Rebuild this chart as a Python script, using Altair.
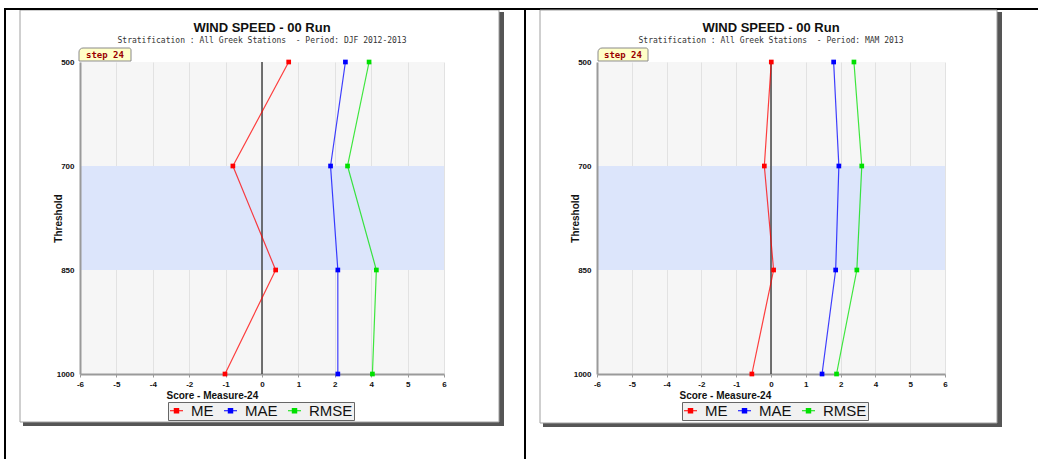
import altair as alt
import pandas as pd

# ---------------- data ----------------
levels = ["500", "700", "850", "1000"]
series = ["ME", "MAE", "RMSE"]
series_colors = ["#ff0000", "#0000ff", "#00e000"]

djf_me = [0.88, -0.96, 0.45, -1.22]
djf_mae = [2.75, 2.26, 2.50, 2.50]
djf_rmse = [3.53, 2.82, 3.77, 3.64]

mam_me = [0.01, -0.23, 0.09, -0.66]
mam_mae = [2.16, 2.34, 2.23, 1.76]
mam_rmse = [2.86, 3.13, 2.96, 2.26]

x_ticks = [-6, -4.8, -3.6, -2.4, -1.2, 0, 1.2, 2.4, 3.6, 4.8, 6]
x_tick_labels = ["-6", "-5", "-4", "-2", "-1", "0", "1", "2", "4", "5", "6"]

band_levels = ["700", "850"]
title_text = "WIND SPEED - 00 Run"
subtitles = [
    "Stratification : All Greek Stations \u00a0- Period: DJF 2012-2013",
    "Stratification : All Greek Stations \u00a0- Period: MAM 2013",
]
step_label = "step 24"
x_title = "Score - Measure-24"
y_title = "Threshold"

PLOT_TOP = 62
PLOT_H = 312

label_expr = "[" + ",".join("'%s'" % s for s in x_tick_labels) + "][indexof([" + \
    ",".join(str(v) for v in x_ticks) + "], datum.value)]"

one = pd.DataFrame({"k": [0]})


def rect(ax1, ay1, ax2, ay2, ox, color, stroke=None):
    kw = dict(fill=color) if stroke is None else dict(filled=False, stroke=stroke, strokeWidth=1)
    return alt.Chart(one).mark_rect(**kw).encode(
        x=alt.value(ax1 - ox), x2=alt.value(ax2 - ox),
        y=alt.value(ay1 - PLOT_TOP), y2=alt.value(ay2 - PLOT_TOP),
    )


def text(s, ax, ay, ox, **kw):
    return alt.Chart(one).mark_text(text=s, **kw).encode(
        x=alt.value(ax - ox), y=alt.value(ay - PLOT_TOP)
    )


def panel(ox, width, me, mae, rmse, subtitle, frame, legend_xy, title_cx, step_x, xtitle_x, extra):
    rows = []
    for name, vals in zip(series, [me, mae, rmse]):
        for i, (lv, v) in enumerate(zip(levels, vals)):
            rows.append({"level": lv, "idx": i, "series": name, "value": v})
    df = pd.DataFrame(rows)

    yscale = alt.Scale(domain=levels, type="point", padding=0)
    xscale = alt.Scale(domain=[-6, 6], nice=False, zero=False)
    cscale = alt.Scale(domain=series, range=series_colors)

    xaxis = alt.Axis(
        values=x_ticks, labelExpr=label_expr, grid=True, gridColor="#e2e2e2",
        domainColor="#9a9a9a", domainWidth=2, tickColor="#9a9a9a", tickSize=3,
        labelFont="Liberation Sans", labelFontSize=8, labelFontWeight="bold",
        labelColor="#111", labelPadding=3, labelFlush=False, labelOverlap=False,
        title=x_title, titleFont="Liberation Sans", titleFontSize=10,
        titleFontWeight="bold", titleColor="#111", titleX=xtitle_x, titleY=24,
        titleAlign="left", titleBaseline="alphabetic",
    )
    yaxis = alt.Axis(
        ticks=False, grid=False, domainColor="#9a9a9a", domainWidth=2,
        labelFont="Liberation Sans", labelFontSize=8, labelFontWeight="bold",
        labelColor="#111", labelPadding=6,
        title=y_title, titleFont="Liberation Sans", titleFontSize=10,
        titleFontWeight="bold", titleColor="#111", titleX=-17, titleY=PLOT_H / 2,
    )
    leg = alt.Legend(
        orient="none", legendX=legend_xy[0], legendY=legend_xy[1],
        direction="horizontal", title=None,
        fillColor="#f1f1f1", strokeColor="#666666", padding=1,
        symbolType="M-1,-0.08H1V0.08H-1ZM-0.42,-0.42H0.42V0.42H-0.42Z", symbolSize=169,
        symbolStrokeWidth=0, symbolOpacity=1, labelFont="Liberation Sans", labelFontSize=15,
        labelColor="#111", labelOffset=7, columnPadding=9,
    )

    fx1, fy1, fx2, fy2 = frame
    layers = [
        rect(fx2, fy1 + 2, fx2 + 5, fy2 + 4, ox, "#555555"),
        rect(fx1 + 3, fy2, fx2 + 5, fy2 + 4, ox, "#555555"),
        rect(fx1, fy1, fx2, fy2, ox, None, stroke="#a0a0a0"),
    ] + extra

    band = alt.Chart(pd.DataFrame({"lo": [band_levels[0]], "hi": [band_levels[1]]})).mark_rect(
        color="#dce5fb").encode(
        x=alt.value(0), x2=alt.value("width"),
        y=alt.Y("lo:O", scale=yscale, axis=yaxis), y2="hi:O",
    )
    zero = alt.Chart(pd.DataFrame({"z": [0]})).mark_rule(color="#444444", strokeWidth=1.5).encode(
        x=alt.X("z:Q", scale=xscale, axis=xaxis)
    )
    base = alt.Chart(df).encode(
        x=alt.X("value:Q", scale=xscale, axis=xaxis),
        y=alt.Y("level:O", scale=yscale, axis=yaxis),
        order="idx:Q",
    )
    pts = base.mark_point(shape="square", size=22, opacity=1, filled=True).encode(
        color=alt.Color("series:N", scale=cscale, legend=leg),
    )
    lines = base.mark_line(strokeWidth=1.2, opacity=0.75).encode(
        color=alt.Color("series:N", scale=cscale, legend=leg)
    )
    sx1, sx2 = step_x
    layers += [
        band, zero, pts, lines,
        alt.Chart(one).mark_rect(fill="#ffffc8", stroke="#8a8a8a", strokeWidth=1,
                                 cornerRadiusTopLeft=4, cornerRadiusTopRight=2).encode(
            x=alt.value(sx1 - ox), x2=alt.value(sx2 - ox),
            y=alt.value(48 - PLOT_TOP), y2=alt.value(61 - PLOT_TOP)),
        text(step_label, (sx1 + sx2) / 2, 55, ox, font="DejaVu Sans Mono", fontSize=9,
             fontWeight="bold", color="#990000", align="center", baseline="middle"),
        text(title_text, title_cx, 28, ox, font="Liberation Sans", fontSize=13,
             fontWeight="bold", color="#111", align="center", baseline="middle"),
        text(subtitle, title_cx, 41, ox, font="DejaVu Sans Mono", fontSize=8,
             color="#333", align="center", baseline="middle"),
    ]
    return alt.layer(*layers).properties(width=width, height=PLOT_H)


LEFT_OX = 80
RIGHT_OX = 597

left_extra = [
    rect(4, 8, 1038, 10, LEFT_OX, "#000000"),
    rect(4, 8, 6, 459, LEFT_OX, "#000000"),
    rect(524, 8, 526, 459, LEFT_OX, "#000000"),
]

left = panel(LEFT_OX, 364, djf_me, djf_mae, djf_rmse, subtitles[0],
             (20, 10, 499, 422), (88, 340), 262, (79, 131), 86, left_extra)
right = panel(RIGHT_OX, 348, mam_me, mam_mae, mam_rmse, subtitles[1],
              (540, 10, 997, 423), (85, 340), 771, (598, 648), 82, [])

chart = alt.hconcat(left, right, spacing=153, bounds="flush").resolve_scale(
    color="independent"
).properties(
    padding={"left": 4, "top": 8, "right": 0, "bottom": 0},
    background="white",
).configure_view(fill="#f6f6f6", stroke=None)

chart.save("out.html", embed_options={"renderer": "svg", "actions": False})
